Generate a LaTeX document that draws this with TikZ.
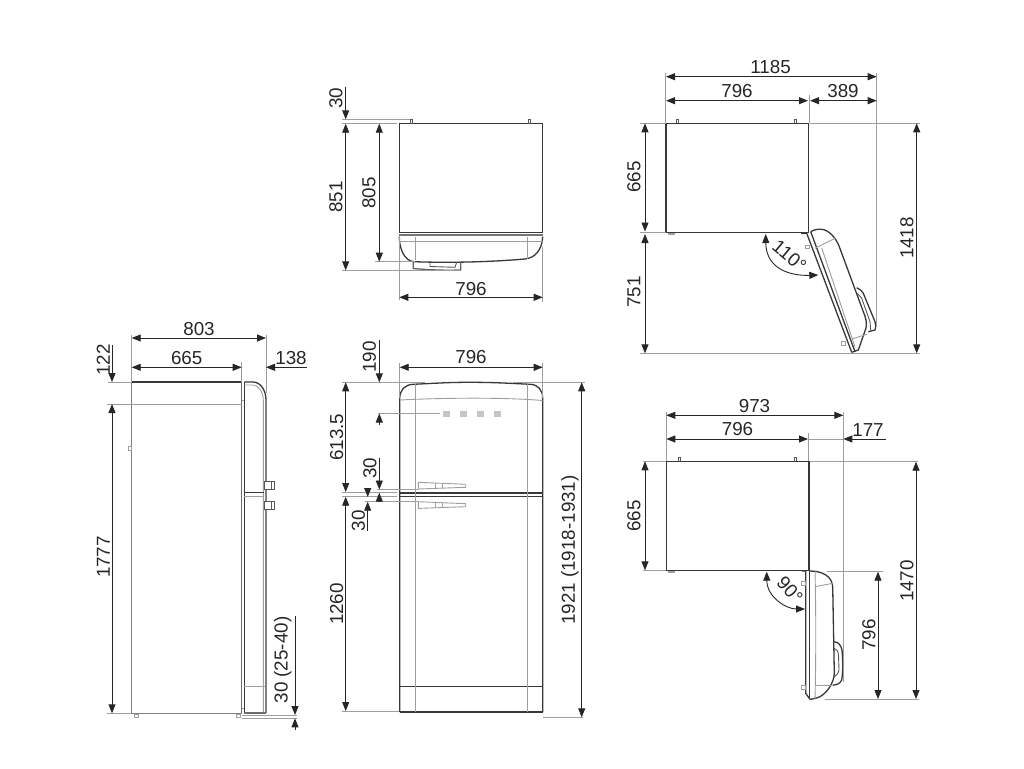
\documentclass[tikz,border=0pt]{standalone}
\usepackage{fontspec}
\setmainfont{Liberation Sans}
\usetikzlibrary{arrows.meta}
\definecolor{inkline}{gray}{0.22}
\definecolor{softline}{gray}{0.62}
\tikzset{
  >={Triangle[length=9pt,width=7pt]},
  body/.style={inkline, line width=1.3pt},
  heavy/.style={inkline, line width=1.9pt},
  soft/.style={softline, line width=0.9pt},
  extline/.style={softline, line width=0.9pt},
  dimline/.style={black!85, line width=0.9pt},
  lab/.style={font=\fontsize{18.8}{18.8}\selectfont, text=black!85, inner sep=0pt},
  vlab/.style={lab, rotate=90},
}
\begin{document}
\begin{tikzpicture}[x=1pt,y=-1pt]
  \useasboundingbox (0,0) rectangle (1024,768);

  % Side view
  \draw[body, softline!70!inkline] (131.7,382) -- (131.7,713.3);
  \draw[heavy] (131.7,382) -- (241.7,382);
  \draw[body, softline!50!inkline] (241.7,382) -- (241.7,713.3);
  \draw[body, softline!70!inkline] (131.7,713.3) -- (241.7,713.3);
  \draw[body] (244.3,382) -- (244.3,713.3);
  \draw[body] (244.3,382) -- (253,382) .. controls (261,382) and (266,391) .. (266,400);
  \draw[body, softline!70!inkline] (266,400) -- (266,713.3);
  \draw[soft] (244.3,385) -- (253,385) .. controls (258,385) and (263.3,392) .. (263.3,400) -- (263.3,713.3);
  \draw[heavy, softline!50!inkline] (244.3,713.3) -- (266,713.3);
  \draw[body] (244.3,492.7) -- (264,492.7);
  \draw[soft] (244.3,496.7) -- (264,496.7);
  \draw[soft] (244.3,686) -- (266,686);
  \draw[soft] (241.7,400) -- (244.3,400);
  \draw[soft] (241.7,708) -- (244.3,708);
  \foreach \hy in {481.7,501.7}
    \draw[soft, inkline!70!softline, fill=white] (264,\hy) rectangle +(10.3,7.3) +(7.5,0) -- +(7.5,7.3);
  \draw[soft] (128.3,446.7) rectangle (131.7,450.7);
  \draw[soft] (134,714.5) rectangle (138,717);
  \draw[soft] (236,714.5) rectangle (240,717);

  % Side view dimensions
  \draw[extline] (131.7,335) -- (131.7,382);
  \draw[extline] (241.7,361.7) -- (241.7,382);
  \draw[extline] (266,335) -- (266,393);
  \draw[extline] (108,382) -- (131.7,382);
  \draw[extline] (106.7,404) -- (241.7,404);
  \draw[extline] (106.7,713.3) -- (131.7,713.3);
  \draw[extline] (241.7,715) -- (296.7,715);
  \draw[extline] (241.7,718.3) -- (296.7,718.3);
  \draw[dimline, <->] (131.7,338) -- (266,338);
  \draw[dimline, <->] (131.7,367.3) -- (241.7,367.3);
  \draw[dimline, ->] (306.7,367.3) -- (266,367.3);
  \draw[dimline, ->] (112,345) -- (112,382);
  \draw[dimline, <->] (112,404) -- (112,713.3);
  \draw[dimline, ->] (295,616) -- (295,715);
  \draw[dimline, ->] (295,730) -- (295,718.3);
  \node[lab] (sidewidth) at (199,329) {803};
  \node[lab] (sidedepth) at (186.7,358) {665};
  \node[lab] (sidedoor) at (291,358) {138};
  \node[vlab] (sidetop) at (103.3,360) {122};
  \node[vlab] (sideheight) at (103.3,557) {1777};
  \node[vlab] (sidefoot) at (282.7,660) {30 (25-40)};

  % Front view
  \draw[body] (399.7,712) -- (399.7,398.3) .. controls (399.7,390) and (405,384.5) .. (413.3,384.3)
    .. controls (440,383) and (450,382.3) .. (470,382.3) .. controls (490,382.3) and (505,383) .. (530,384.3)
    .. controls (538,384.5) and (542.7,390) .. (542.7,398.3) -- (542.7,712);
  \draw[heavy] (399.7,712) -- (542.7,712);
  \draw[heavy] (399.7,492.7) -- (542.7,492.7);
  \draw[body] (399.7,496.7) -- (542.7,496.7);
  \draw[body] (399.7,686.7) -- (542.7,686.7);
  \draw[soft] (415.7,384) -- (415.7,712);
  \draw[soft] (527.3,384) -- (527.3,712);
  \draw[soft] (399.7,400) .. controls (440,398) and (500,397) .. (542.7,400.5);
  \foreach \lx in {446,463.3,480,497.3}
    \draw[soft, softline!60, fill=softline!60] (\lx-3,411) rectangle (\lx+3,416.5);
  \foreach \hy in {482.3,501.7} {
    \draw[soft] (418.3,\hy) -- (465.7,\hy+2) -- (465.7,\hy+5) -- (418.3,\hy+6.7) -- cycle;
    \draw[soft] (435,\hy+0.7) -- (435,\hy+6);
    \draw[soft] (442.3,\hy+1) -- (442.3,\hy+5.8);
  }

  % Front view dimensions
  \draw[extline] (399.7,363) -- (399.7,398);
  \draw[extline] (542.7,363) -- (542.7,398);
  \draw[extline] (341.7,382.3) -- (425,382.3);
  \draw[extline] (513,382.3) -- (585,382.3);
  \draw[extline] (378,413.3) -- (440,413.3);
  \draw[extline] (341.7,492.7) -- (396.7,492.7);
  \draw[extline] (341.7,496) -- (396.7,496);
  \draw[extline] (376.7,489) -- (418,489);
  \draw[extline] (365,501.7) -- (418,501.7);
  \draw[extline] (341.7,711) -- (399.3,711);
  \draw[extline] (542.7,717.3) -- (583,717.3);
  \draw[dimline, <->] (399.7,367.3) -- (542.7,367.3);
  \draw[dimline, ->] (379.3,340) -- (379.3,382.3);
  \draw[dimline, ->] (379.3,425) -- (379.3,413.5);
  \draw[dimline, <->] (345.7,382.3) -- (345.7,492);
  \draw[dimline, <->] (345.7,496.7) -- (345.7,711);
  \draw[dimline, ->] (379.3,458) -- (379.3,489.5);
  \draw[dimline, ->] (379.3,502) -- (379.3,492.7);
  \draw[dimline, ->] (367.7,488) -- (367.7,497);
  \draw[dimline, ->] (367.7,530.7) -- (367.7,501.7);
  \draw[dimline, <->] (581.7,382.3) -- (581.7,717.3);
  \node[lab] (frontwidth) at (471,356.7) {796};
  \node[vlab] (fronttop) at (369.5,357) {190};
  \node[vlab] (frontupper) at (336.7,437.3) {613.5};
  \node[vlab] (frontlower) at (336.7,604) {1260};
  \node[vlab] (frontgapa) at (370,468.3) {30};
  \node[vlab] (frontgapb) at (358.3,520.7) {30};
  \node[vlab] (frontheight) at (570,550) {1921 (1918-1931)};

  % Top view, doors closed
  \draw[body] (399.3,123.7) rectangle (542.7,232.7);
  \draw[heavy, softline!60!inkline] (399.3,234.8) -- (542.7,234.8);
  \foreach \px in {411.7,529.3}
    \draw[soft, inkline!70!softline] (\px-1,123.7) -- (\px-1,119.3) -- (\px+1,119.3) -- (\px+1,123.7);
  \draw[body] (399.3,236.7) .. controls (399.3,248) and (404,261) .. (414,261.7)
    .. controls (450,263) and (490,262) .. (525,259) .. controls (535,258) and (542,250) .. (542.7,236.7);
  \draw[soft] (399.3,241.3) -- (542.7,241.3);
  \draw[soft] (415.7,236.7) -- (415.7,260);
  \draw[soft] (527,236.7) -- (527,259);
  \draw[body, softline!40!inkline] (413.3,261.7) -- (413.3,268.5) .. controls (430,270) and (445,270.5) .. (460.7,270) -- (460.7,262);
  \draw[soft, inkline!70!softline] (430,262) -- (430,266.5) -- (455,267.3) -- (456.7,262);

  % Top view dimensions
  \draw[extline] (341.7,119.3) -- (410,119.3);
  \draw[extline] (341.7,123.7) -- (396.7,123.7);
  \draw[extline] (341.7,270.3) -- (460,270.3);
  \draw[extline] (375,261.7) -- (415,261.7);
  \draw[extline] (399.3,236) -- (399.3,300);
  \draw[extline] (542.7,247) -- (542.7,302);
  \draw[dimline, ->] (345.7,86.7) -- (345.7,119.3);
  \draw[dimline, <->] (345.7,123.7) -- (345.7,270.3);
  \draw[dimline, <->] (379.3,123.7) -- (379.3,261.7);
  \draw[dimline, <->] (399.3,297.3) -- (542.7,297.3);
  \node[vlab] (closedpin) at (336,98) {30};
  \node[vlab] (closedall) at (336,197) {851};
  \node[vlab] (closedbody) at (369,193) {805};
  \node[lab] (closedwidth) at (471,289) {796};

  % Door open 110 deg
  \draw[body] (666,123.3) rectangle (808.7,232.7);
  \foreach \px in {677.7,795.3}
    \draw[soft, inkline!70!softline] (\px-1,123.3) -- (\px-1,119) -- (\px+1,119) -- (\px+1,123.3);
  \draw[soft] (668,233.5) rectangle (674,234.5);
  \draw[body] (801,233.5) -- (806.7,233.3) -- (851.7,352.3);
  \draw[body] (810.7,231.7) -- (855,351.7);
  \draw[body] (810.7,231.7) .. controls (814,229.5) and (818,229) .. (821.7,229.3)
    .. controls (829,230) and (836,238) .. (839.3,246.7) -- (863.3,311.7)
    .. controls (866,318) and (867,323) .. (866,328) -- (858.3,350) -- (851.7,352.3);
  \draw[soft] (815,248.3) -- (835,238.3);
  \draw[soft] (851.7,339) -- (866.7,334.3);
  \draw[soft] (821.7,248) -- (855,347);
  \draw[body] (856.7,287.7) .. controls (860,289) and (862,291) .. (863.3,293.3) -- (875,321.7)
    .. controls (876,325) and (876,328) .. (875,330) -- (868.3,331.7);
  \draw[soft, inkline!70!softline] (857.3,293.3) -- (861.7,298.3) -- (870,321.7) -- (870.7,330);
  \draw[soft] (805,245) rectangle (809,248.3);
  \draw[soft] (841,341.7) rectangle (845,345);

  % Door open 110 deg dimensions
  \draw[extline] (665.7,73) -- (665.7,123);
  \draw[extline] (809,95) -- (809,123);
  \draw[extline] (876.7,73) -- (876.7,327);
  \draw[extline] (810,123.3) -- (920,123.3);
  \draw[extline] (640,123.3) -- (666,123.3);
  \draw[extline] (640,232.7) -- (666,232.7);
  \draw[extline] (640,353.3) -- (920,353.3);
  \draw[dimline, <->] (666,76.7) -- (876.7,76.7);
  \draw[dimline, <->] (666,100.7) -- (808,100.7);
  \draw[dimline, <->] (810,100.7) -- (876.7,100.7);
  \draw[dimline, <->] (645,123.3) -- (645,231.5);
  \draw[dimline, <->] (645,234) -- (645,353.3);
  \draw[dimline, <->] (916.7,123.3) -- (916.7,353.3);
  \draw[dimline, <->] (765.7,234) .. controls (766,270) and (792,276) .. (818.3,275);
  \node[lab] (openwidth) at (770.5,67.5) {1185};
  \node[lab] (openbody) at (737,91.5) {796};
  \node[lab] (opendoor) at (843,91.5) {389};
  \node[vlab] (opendepth) at (634,177) {665};
  \node[vlab] (openrest) at (634,292) {751};
  \node[vlab] (opentotal) at (907,238) {1418};
  \node[lab, rotate=-40] (openangle) at (789.5,256) {110°};

  % Door open 90 deg
  \draw[body] (666.3,461.3) rectangle (809,570.3);
  \foreach \px in {679,795.3}
    \draw[soft, inkline!70!softline] (\px-1,461.3) -- (\px-1,457.3) -- (\px+1,457.3) -- (\px+1,461.3);
  \draw[soft] (668,571) rectangle (674,572);
  \draw[body] (801.5,571) -- (805.7,571) -- (805.7,693.3) -- (810,699.3);
  \draw[body] (809.7,571) -- (809.7,699.3);
  \draw[body] (810,571) .. controls (822,571) and (832,576) .. (832.7,586.7) -- (834.3,673.3)
    .. controls (834,682) and (828,692) .. (820,696.7) .. controls (817,698) and (813,699) .. (810,699.3);
  \draw[soft] (815,571.5) .. controls (816,610) and (816,660) .. (815,699);
  \draw[soft] (815,586.7) -- (832.7,583.3);
  \draw[soft] (815,685) -- (832.7,685);
  \draw[body] (834,641.7) .. controls (839,642) and (841,646) .. (842,650) .. controls (843,660) and (843,672) .. (841.7,680)
    .. controls (840,684) and (836,685) .. (833,685);
  \draw[soft, inkline!70!softline] (834,648.3) .. controls (837,649) and (838,651) .. (838.5,655) -- (839,670)
    .. controls (838,674) and (836,676) .. (834,677);
  \draw[soft] (801.7,581.7) rectangle (805.7,585);
  \draw[soft] (801.7,685) rectangle (805.7,689.3);

  % Door open 90 deg dimensions
  \draw[extline] (666.3,411.7) -- (666.3,461);
  \draw[extline] (808.7,433) -- (808.7,461);
  \draw[extline] (843.3,411.7) -- (843.3,681.7);
  \draw[extline] (810,461.7) -- (918,461.7);
  \draw[extline] (643,461.3) -- (666,461.3);
  \draw[extline] (643,570.3) -- (666,570.3);
  \draw[extline] (826.7,571.7) -- (883,571.7);
  \draw[extline] (825,699) -- (919,699);
  \draw[extline] (808,439) -- (843.3,439);
  \draw[dimline, <->] (666.3,415.3) -- (843.3,415.3);
  \draw[dimline, <->] (666.3,439) -- (808,439);
  \draw[dimline, ->] (886,439) -- (843.3,439);
  \draw[dimline, <->] (645,461.3) -- (645,570.3);
  \draw[dimline, <->] (878,571.7) -- (878,699);
  \draw[dimline, <->] (916,461.7) -- (916,699);
  \draw[dimline, <->] (766.7,571.7) .. controls (767,597) and (786,609) .. (805,609);
  \node[lab] (ninetywidth) at (754.5,406.5) {973};
  \node[lab] (ninetybody) at (737.5,429.5) {796};
  \node[lab] (ninetydoor) at (868,430) {177};
  \node[vlab] (ninetydepth) at (634,516) {665};
  \node[vlab] (ninetytotal) at (907,581) {1470};
  \node[vlab] (ninetyswing) at (869,635) {796};
  \node[lab, rotate=-48] (ninetyangle) at (790,590) {90°};
\end{tikzpicture}
\end{document}
